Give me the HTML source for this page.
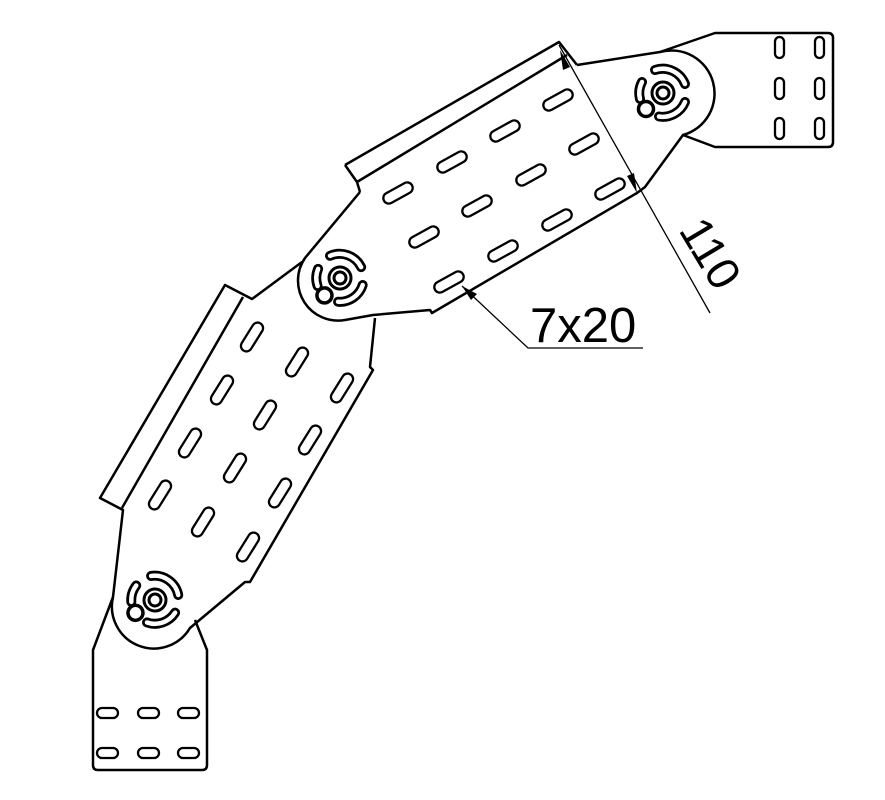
<!DOCTYPE html>
<html><head><meta charset="utf-8"><style>html,body{margin:0;padding:0;background:#fff}svg{display:block}</style></head>
<body>
<svg width="885" height="800" viewBox="0 0 885 800" xmlns="http://www.w3.org/2000/svg">
<defs>
<g id="piv">
  <circle cx="0" cy="0" r="6" fill="none" stroke="#000" stroke-width="3"/>
  <circle cx="0" cy="0" r="11" fill="none" stroke="#000" stroke-width="3"/>
  <g fill="none" stroke-linecap="round">
    <path d="M-8,-23 A24,24 0 0 1 22,-9" stroke="#000" stroke-width="10"/>
    <path d="M-8,-23 A24,24 0 0 1 22,-9" stroke="#fff" stroke-width="4.5"/>
    <path d="M22,9 A24,24 0 0 1 -4,23.5" stroke="#000" stroke-width="10"/>
    <path d="M22,9 A24,24 0 0 1 -4,23.5" stroke="#fff" stroke-width="4.5"/>
    <path d="M-21,-11 A24,24 0 0 0 -23,6" stroke="#000" stroke-width="10"/>
    <path d="M-21,-11 A24,24 0 0 0 -23,6" stroke="#fff" stroke-width="4.5"/>
  </g>
  <circle cx="-17" cy="16" r="7.5" fill="#fff" stroke="#000" stroke-width="3.5"/>
</g>
<rect id="sl" x="-16" y="-5.5" width="32" height="11" rx="5.5" fill="none" stroke="#000" stroke-width="2.3"/>
</defs>
<g fill="none" stroke="#000" stroke-width="2.5" stroke-linejoin="round">
  <path d="M660,52 L715,33 L828,33 Q833,33 833,38 L833,142 Q833,147 828,147 L715,147 L683,135"/>
  <path d="M360,192 L305,258 A40,40 0 0 0 345,320 L373,315 L430,310 L432,313 L637,193 L645,187 L683,135 A42,42 0 0 0 660,52 L577,65"/>
  <path d="M345,165 L559,42 L577,65"/>
  <path d="M345,165 L357,182 L360,192"/>
  <path d="M357,182 L567,55"/>
  <path d="M302,262 L252,299 L225,285 L100,498 L123,510 L113,597 A42,42 0 0 0 190,628 L245,582 L250,582 L373,370 L370,367 L375,318"/>
  <path d="M243,297 L122,508"/>
  <path d="M113,597 L93,650 L93,765 Q93,770 98,770 L202,770 Q207,770 207,765 L207,650 L195,620"/>
</g>
<g fill="none" stroke="#000" stroke-width="2.3">
  <rect x="775" y="37" width="9" height="21" rx="4.5"/>
  <rect x="815" y="37" width="9" height="21" rx="4.5"/>
  <rect x="775" y="78" width="9" height="21" rx="4.5"/>
  <rect x="815" y="78" width="9" height="21" rx="4.5"/>
  <rect x="775" y="118" width="9" height="21" rx="4.5"/>
  <rect x="815" y="118" width="9" height="21" rx="4.5"/>
  <rect x="97" y="708" width="21" height="10" rx="5"/>
  <rect x="138" y="708" width="21" height="10" rx="5"/>
  <rect x="178" y="708" width="21" height="10" rx="5"/>
  <rect x="97" y="748" width="21" height="10" rx="5"/>
  <rect x="138" y="748" width="21" height="10" rx="5"/>
  <rect x="178" y="748" width="21" height="10" rx="5"/>
</g>
<g>
  <use href="#sl" transform="translate(558,100) rotate(-29)"/>
  <use href="#sl" transform="translate(505,131) rotate(-29)"/>
  <use href="#sl" transform="translate(452,162) rotate(-29)"/>
  <use href="#sl" transform="translate(398,193) rotate(-29)"/>
  <use href="#sl" transform="translate(584,144) rotate(-29)"/>
  <use href="#sl" transform="translate(531,175) rotate(-29)"/>
  <use href="#sl" transform="translate(477,206) rotate(-29)"/>
  <use href="#sl" transform="translate(424,237) rotate(-29)"/>
  <use href="#sl" transform="translate(610,189) rotate(-29)"/>
  <use href="#sl" transform="translate(557,220) rotate(-29)"/>
  <use href="#sl" transform="translate(503,251) rotate(-29)"/>
  <use href="#sl" transform="translate(449,282) rotate(-29)"/>
</g>
<g>
  <use href="#sl" transform="translate(252,337) rotate(-58)"/>
  <use href="#sl" transform="translate(297,362) rotate(-58)"/>
  <use href="#sl" transform="translate(342,388) rotate(-58)"/>
  <use href="#sl" transform="translate(222,390) rotate(-58)"/>
  <use href="#sl" transform="translate(265,415) rotate(-58)"/>
  <use href="#sl" transform="translate(310,440) rotate(-58)"/>
  <use href="#sl" transform="translate(190,443) rotate(-58)"/>
  <use href="#sl" transform="translate(235,468) rotate(-58)"/>
  <use href="#sl" transform="translate(280,493) rotate(-58)"/>
  <use href="#sl" transform="translate(160,495) rotate(-58)"/>
  <use href="#sl" transform="translate(203,522) rotate(-58)"/>
  <use href="#sl" transform="translate(248,547) rotate(-58)"/>
</g>
<use href="#piv" transform="translate(663,93)"/>
<use href="#piv" transform="translate(340,278) rotate(-5)"/>
<use href="#piv" transform="translate(155,600) rotate(10)"/>
<g stroke="#000" stroke-width="1.3" fill="none">
  <path d="M559,45 L710,313"/>
  <path d="M462,286 L528,348 L643,348"/>
</g>
<g fill="#000">
  <path d="M560,50 L570,67 L563,70 Z"/>
  <path d="M637,193 L627,176 L634,173 Z"/>
  <path d="M462,286 L477,294 L471,300 Z"/>
</g>
<text x="530" y="342" font-family="Liberation Sans, sans-serif" font-size="49">7x20</text>
<text transform="translate(678,230) rotate(59)" font-family="Liberation Sans, sans-serif" font-size="46">110</text>
</svg>
</body></html>
